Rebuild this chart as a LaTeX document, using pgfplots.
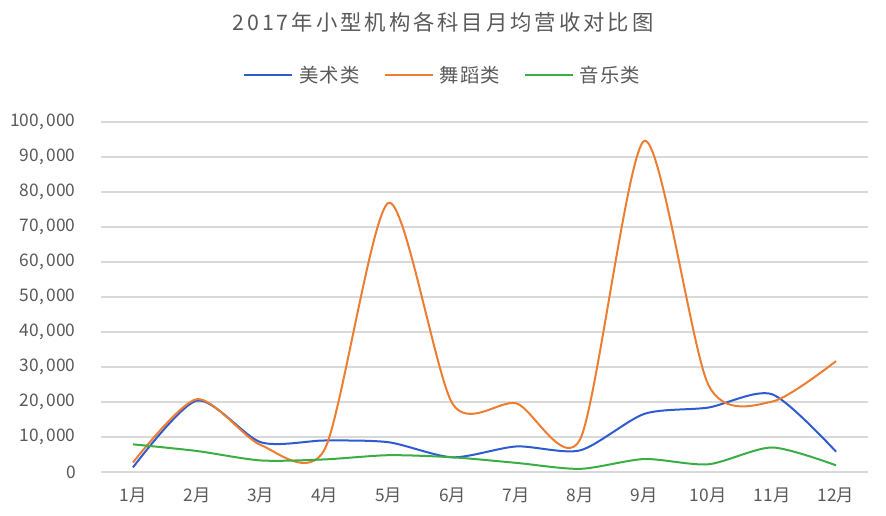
\documentclass[border=0pt]{standalone}
\usepackage{pgfplots}
\pgfplotsset{compat=1.18}
\usepackage{fontspec}
\setmainfont{Noto Sans CJK SC}
\newfontfamily\titlefont{Noto Sans CJK SC}[LetterSpace=14]
\newfontfamily\legfont{Noto Sans CJK SC}[LetterSpace=6]
\definecolor{cblue}{HTML}{2E5BCF}
\definecolor{corange}{HTML}{ED7D31}
\definecolor{cgreen}{HTML}{3AAE44}
\definecolor{ctext}{HTML}{595959}
\definecolor{cgrid}{HTML}{D9D9D9}
\begin{document}
\begin{tikzpicture}
\useasboundingbox (0pt,0pt) rectangle (664.5pt,387pt);
\node[text=ctext,font=\titlefont\fontsize{16pt}{18pt}\selectfont] at (332.25pt,370.5pt) {2017年小型机构各科目月均营收对比图};
\begin{axis}[
  at={(75.75pt,33pt)}, anchor=south west,
  scale only axis, width=575.25pt, height=262.5pt,
  xmin=-0.5, xmax=11.5, ymin=0, ymax=100000,
  xtick={0,...,11},
  xticklabels={1月,2月,3月,4月,5月,6月,7月,8月,9月,10月,11月,12月},
  ytick={0,10000,...,100000},
  scaled y ticks=false,
  /pgf/number format/.cd, fixed, 1000 sep={,\,}, assume math mode=true,
  /pgfplots/.cd,
  ymajorgrids, grid style={cgrid, line width=0.8pt},
  axis line style={draw=none},
  major tick length=0pt,
  tick label style={text=ctext, font=\fontsize{13pt}{15pt}\selectfont},
  yticklabel style={xshift=-15.5pt},
  xticklabel style={yshift=-8pt},
  clip=false,
  legend columns=3,
  legend style={at={(0.446,1.134)}, anchor=center, draw=none, fill=none,
    font=\legfont\fontsize{14.5pt}{16pt}\selectfont, text=ctext,
    /tikz/every odd column/.append style={column sep=2.5pt},
    /tikz/every even column/.append style={column sep=16pt}},
  legend image code/.code={\draw[#1,line width=1.5pt] (0pt,0pt) -- (36pt,0pt);},
  every axis plot/.append style={line width=1.5pt, smooth, tension=0.45, no markers},
]
\addplot[cblue] coordinates {(0,1300) (1,20400) (2,8500) (3,9000) (4,8500) (5,4200) (6,7300) (7,6200) (8,16600) (9,18400) (10,22200) (11,5800)};
\addlegendentry{美术类}
\addplot[corange] coordinates {(0,2700) (1,20800) (2,7700) (3,6500) (4,76900) (5,19500) (6,19600) (7,9500) (8,94600) (9,25000) (10,20100) (11,31700)};
\addlegendentry{舞蹈类}
\addplot[cgreen] coordinates {(0,7900) (1,6000) (2,3300) (3,3600) (4,4800) (5,4200) (6,2600) (7,900) (8,3700) (9,2200) (10,7000) (11,1900)};
\addlegendentry{音乐类}
\end{axis}
\end{tikzpicture}
\end{document}
